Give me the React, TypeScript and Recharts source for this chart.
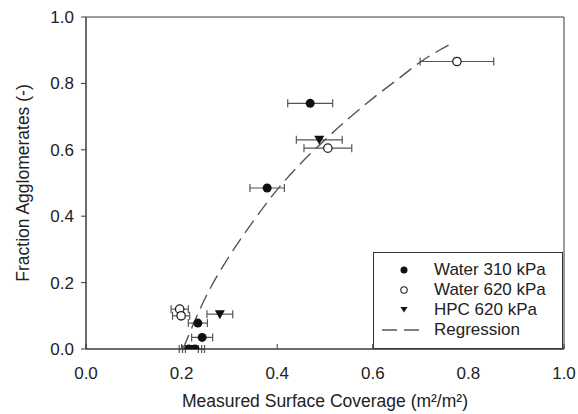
import {
  ErrorBar,
  Label,
  Legend,
  ReferenceArea,
  Scatter,
  ScatterChart,
  XAxis,
  YAxis,
} from "recharts";

const TICKS = [0, 0.2, 0.4, 0.6, 0.8, 1.0];

// Water 310 kPa (filled circles)
const W310_X = [0.469, 0.379, 0.234, 0.243, 0.215, 0.228];
const W310_Y = [0.74, 0.485, 0.078, 0.035, 0.0, 0.0];
const W310_ERR = [0.047, 0.036, 0.02, 0.022, 0.02, 0.02];

// Water 620 kPa (open circles)
const W620_X = [0.776, 0.506, 0.196, 0.199];
const W620_Y = [0.866, 0.605, 0.12, 0.1];
const W620_ERR = [0.077, 0.05, 0.018, 0.018];

// HPC 620 kPa (down triangles)
const HPC_X = [0.488, 0.28, 0.222];
const HPC_Y = [0.63, 0.105, 0.0];
const HPC_ERR = [0.048, 0.027, 0.02];

// Regression curve
const REG_X = [0.203, 0.25, 0.3, 0.35, 0.4, 0.45, 0.5, 0.55, 0.6, 0.65, 0.7, 0.765];
const REG_Y = [0.0, 0.155, 0.28, 0.385, 0.48, 0.56, 0.63, 0.695, 0.755, 0.81, 0.865, 0.92];

const LEGEND = ["Water 310 kPa", "Water 620 kPa", "HPC 620 kPa", "Regression"];

const zip = (xs: number[], ys: number[], es?: number[]) =>
  xs.map((x, i) => ({ x, y: ys[i], err: es ? es[i] : 0 }));

const FONT = '"Liberation Sans", Arial, sans-serif';
const INK = "#222";
const LINE = "#3a3a3a";

const filledDot = (p: any) => <circle cx={p.cx} cy={p.cy} r={4.5} fill="#111" />;
const openDot = (p: any) => (
  <circle cx={p.cx} cy={p.cy} r={4.2} fill="#fff" stroke="#222" strokeWidth={1.3} />
);
const triDot = (p: any) => (
  <polygon
    points={`${p.cx - 5},${p.cy - 4} ${p.cx + 5},${p.cy - 4} ${p.cx},${p.cy + 5}`}
    fill="#111"
  />
);

function LegendBox() {
  const icons = [
    <circle cx={30} cy={8} r={3.5} fill="#111" />,
    <circle cx={30} cy={8} r={3.2} fill="#fff" stroke="#222" strokeWidth={1.1} />,
    <polygon points="26.5,5 33.5,5 30,10.5" fill="#111" />,
    <line x1={8} y1={8} x2={50} y2={8} stroke="#555" strokeWidth={1.3} strokeDasharray="15 7" />,
  ];
  return (
    <div
      style={{
        width: 190,
        height: 97,
        border: "1px solid #333",
        background: "#fff",
        boxSizing: "border-box",
        paddingTop: 7,
        fontFamily: FONT,
        fontSize: 17,
        color: INK,
      }}
    >
      {LEGEND.map((name, i) => (
        <div key={name} style={{ display: "flex", alignItems: "center", height: 20 }}>
          <svg width={60} height={16}>{icons[i]}</svg>
          <span>{name}</span>
        </div>
      ))}
    </div>
  );
}

export default function App() {
  const tick = { fill: INK, fontSize: 17, fontFamily: FONT };
  return (
    <div style={{ position: "fixed", left: 0, top: 0, width: 578, height: 414, background: "#fff" }}>
      <ScatterChart width={578} height={414} margin={{ top: 17, right: 14, bottom: 0, left: 0 }}>
        <XAxis
          type="number"
          dataKey="x"
          domain={[0, 1]}
          ticks={TICKS}
          tickFormatter={(v: number) => v.toFixed(1)}
          height={65}
          tick={tick}
          tickSize={-5}
          tickMargin={23}
          stroke={LINE}
          allowDataOverflow
        >
          <Label
            content={(props: any) => {
              const vb = props.viewBox;
              return (
                <text
                  x={vb.x + vb.width / 2}
                  y={vb.y + 58}
                  textAnchor="middle"
                  fill={INK}
                  fontSize={17.5}
                  fontFamily={FONT}
                >
                  Measured Surface Coverage (m²/m²)
                </text>
              );
            }}
          />
        </XAxis>
        <YAxis
          type="number"
          dataKey="y"
          domain={[0, 1]}
          ticks={TICKS}
          tickFormatter={(v: number) => v.toFixed(1)}
          width={86}
          tick={tick}
          tickSize={5}
          tickMargin={7}
          stroke={LINE}
          allowDataOverflow
        >
          <Label
            content={(props: any) => {
              const vb = props.viewBox;
              const cx = 24;
              const cy = vb.y + vb.height / 2;
              return (
                <text
                  x={cx}
                  y={cy}
                  transform={`rotate(-90 ${cx} ${cy})`}
                  textAnchor="middle"
                  dominantBaseline="middle"
                  fill={INK}
                  fontSize={17.5}
                  fontFamily={FONT}
                >
                  Fraction Agglomerates (-)
                </text>
              );
            }}
          />
        </YAxis>
        <ReferenceArea x1={0} x2={1} y1={0} y2={1} fill="none" stroke={LINE} strokeWidth={1} />
        <Scatter
          data={zip(REG_X, REG_Y)}
          line={{ stroke: "#555", strokeWidth: 1.4, strokeDasharray: "15 7" }}
          lineType="joint"
          lineJointType="monotoneX"
          shape={() => <g />}
          isAnimationActive={false}
          legendType="none"
        />
        <Scatter data={zip(HPC_X, HPC_Y, HPC_ERR)} shape={triDot} isAnimationActive={false}>
          <ErrorBar dataKey="err" direction="x" width={4} stroke="#555" strokeWidth={1.2} />
        </Scatter>
        <Scatter data={zip(W620_X, W620_Y, W620_ERR)} shape={openDot} isAnimationActive={false}>
          <ErrorBar dataKey="err" direction="x" width={4} stroke="#555" strokeWidth={1.2} />
        </Scatter>
        <Scatter data={zip(W310_X, W310_Y, W310_ERR)} shape={filledDot} isAnimationActive={false}>
          <ErrorBar dataKey="err" direction="x" width={4} stroke="#555" strokeWidth={1.2} />
        </Scatter>
        <Legend
          layout="horizontal"
          verticalAlign="middle"
          align="center"
          content={() => <LegendBox />}
          wrapperStyle={{ left: 373, top: 252, width: 190, height: 97 }}
        />
      </ScatterChart>
    </div>
  );
}
